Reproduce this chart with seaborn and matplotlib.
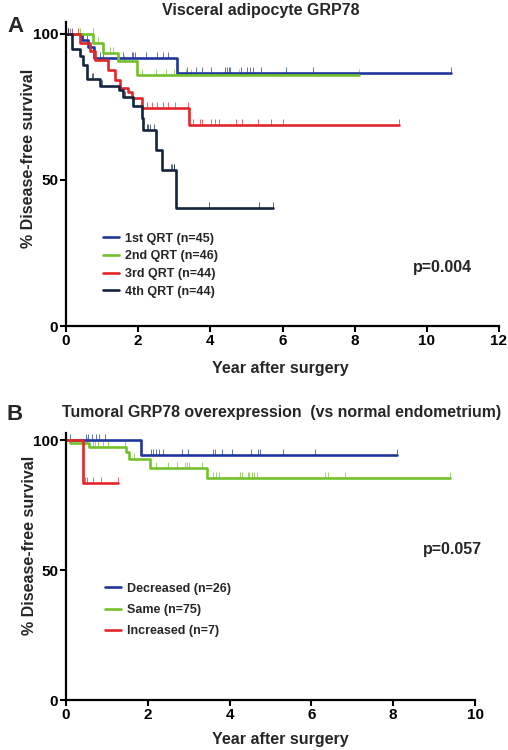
import numpy as np
import pandas as pd
import matplotlib
matplotlib.use("Agg")
import matplotlib.pyplot as plt
from matplotlib.path import Path
import seaborn as sns

# =========================
# Data
# =========================

# Panel A - visceral adipocyte GRP78 quartiles
a_groups = ["1st QRT (n=45)", "2nd QRT (n=46)", "3rd QRT (n=44)", "4th QRT (n=44)"]
a_colors = ["#1f369c", "#72c12c", "#e2262b", "#15243d"]

a1_event_t = [0.43, 0.62, 0.78, 3.07]
a1_event_s = [97.8, 95.5, 91.7, 86.5]
a1_end = 10.67
a1_censor = [0.06, 0.16, 0.48, 0.57, 0.94, 1.03, 1.59, 1.82, 1.87, 1.91, 2.21, 2.51,
             2.70, 2.82, 3.34, 3.60, 3.76, 4.01, 4.41, 4.45, 4.53, 4.55, 4.85, 5.01,
             5.10, 5.17, 5.40, 6.10, 6.84, 10.67]

a2_event_t = [0.76, 1.03, 1.45, 1.98]
a2_event_s = [96.8, 93.3, 90.6, 86.0]
a2_end = 8.12
a2_censor = [0.34, 0.40, 0.74, 0.90, 1.22, 1.30, 1.60, 2.10, 2.50, 2.76, 2.98, 3.33,
             3.46, 4.80, 8.12]

a3_event_t = [0.39, 0.67, 0.80, 1.17, 1.36, 1.50, 1.73, 1.82, 2.10, 3.42]
a3_event_s = [96.8, 94.0, 91.1, 87.7, 84.2, 81.4, 80.2, 78.0, 74.5, 68.8]
a3_end = 9.24
a3_censor = [0.11, 0.34, 2.24, 2.38, 2.51, 2.70, 2.84, 3.02, 3.39, 3.51, 3.71, 3.76,
             4.01, 4.13, 4.24, 4.71, 4.87, 5.33, 5.68, 6.02, 9.24]

a4_event_t = [0.16, 0.39, 0.48, 0.59, 0.94, 1.48, 1.57, 1.85, 2.10, 2.14, 2.49, 2.65, 3.05]
a4_event_s = [94.7, 92.2, 89.4, 84.6, 82.2, 80.8, 78.5, 75.3, 71.1, 66.9, 60.3, 53.4, 40.3]
a4_end = 5.73
a4_censor = [0.06, 0.71, 0.76, 0.99, 1.64, 2.24, 2.28, 2.33, 2.44, 2.90, 2.94, 2.98,
             3.00, 3.96, 5.36, 5.73]

# Panel B - tumoral GRP78 vs normal endometrium
b_groups = ["Decreased (n=26)", "Same (n=75)", "Increased (n=7)"]
b_colors = ["#1f369c", "#72c12c", "#e2262b"]

b1_event_t = [1.83]
b1_event_s = [94.2]
b1_end = 8.09
b1_censor = [0.11, 0.49, 0.55, 0.63, 0.73, 0.81, 0.95, 2.08, 2.13, 2.20, 2.27, 2.38,
             2.83, 2.99, 3.60, 3.64, 3.82, 4.05, 4.52, 4.70, 4.74, 5.31, 6.09, 8.09]

b2_event_t = [0.10, 0.57, 1.47, 1.55, 2.05, 3.44]
b2_event_s = [98.7, 97.2, 95.3, 92.6, 89.3, 85.3]
b2_end = 9.39
b2_censor = [0.51, 0.65, 0.71, 0.79, 0.90, 1.03, 1.44, 1.66, 2.20, 2.50, 2.72, 2.91,
             2.97, 3.01, 3.32, 3.60, 3.67, 3.74, 4.25, 4.30, 4.44, 4.48, 4.54, 4.60,
             4.68, 6.33, 6.40, 6.82, 9.39]

b3_event_t = [0.41]
b3_event_s = [83.6]
b3_end = 1.26
b3_censor = [0.46, 0.52, 0.67, 0.86, 1.26]


# =========================
# Helpers
# =========================

def curve_frame(groups, specs):
    rows = []
    for g, (et, es, end) in zip(groups, specs):
        t = [0.0] + list(et) + [end]
        s = [100.0] + list(es) + [es[-1]]
        for ti, si in zip(t, s):
            rows.append({"time": ti, "surv": si, "group": g})
    return pd.DataFrame(rows)


def censor_frame(groups, specs, censors):
    rows = []
    for g, (et, es, end), cens in zip(groups, specs, censors):
        levels = np.array([100.0] + list(es))
        for c in cens:
            idx = np.searchsorted(np.array(et), c, side="right")
            rows.append({"time": c, "surv": levels[idx], "group": g})
    return pd.DataFrame(rows)


tick_mark = Path([(0, 0), (0, 1)], [Path.MOVETO, Path.LINETO])


def km_panel(ax, groups, colors, specs, censors):
    curves = curve_frame(groups, specs)
    marks = censor_frame(groups, specs, censors)
    sns.lineplot(data=curves, x="time", y="surv", hue="group", hue_order=groups,
                 palette=colors, estimator=None, drawstyle="steps-post",
                 linewidth=1.9, ax=ax)
    for g, c in zip(groups, colors):
        sns.scatterplot(data=marks[marks["group"] == g], x="time", y="surv",
                        marker=tick_mark, s=70, color=c, edgecolor=c,
                        linewidth=0.7, alpha=0.7, legend=False, ax=ax)


# =========================
# Figure
# =========================

sns.set_style("ticks")
plt.rcParams["font.family"] = ["Liberation Sans", "DejaVu Sans"]
plt.rcParams["font.weight"] = "bold"

fig = plt.figure(figsize=(5.08, 7.5), dpi=100)
W, H = 508, 750

ax_a = fig.add_axes([66 / W, 1 - 326 / H, 433 / W, 304 / H])
ax_b = fig.add_axes([66 / W, 1 - 700 / H, 409 / W, 267 / H])

km_panel(ax_a, a_groups, a_colors,
         [(a1_event_t, a1_event_s, a1_end), (a2_event_t, a2_event_s, a2_end),
          (a3_event_t, a3_event_s, a3_end), (a4_event_t, a4_event_s, a4_end)],
         [a1_censor, a2_censor, a3_censor, a4_censor])

km_panel(ax_b, b_groups, b_colors,
         [(b1_event_t, b1_event_s, b1_end), (b2_event_t, b2_event_s, b2_end),
          (b3_event_t, b3_event_s, b3_end)],
         [b1_censor, b2_censor, b3_censor])

for ax, xmax, ytop in [(ax_a, 12, 104), (ax_b, 10, 102.7)]:
    ax.set_xlim(0, xmax)
    ax.set_ylim(0, ytop)
    ax.set_xticks(np.arange(0, xmax + 1, 2))
    ax.set_yticks([0, 50, 100])
    sns.despine(ax=ax)
    for side in ["left", "bottom"]:
        ax.spines[side].set_linewidth(1.6)
        ax.spines[side].set_color("black")
    ax.tick_params(axis="both", direction="out", length=4, width=1.5,
                   labelsize=11, pad=1.5, colors="black")
    for lab in ax.get_xticklabels() + ax.get_yticklabels():
        lab.set_fontweight("bold")
    ax.set_xlabel("Year after surgery", fontsize=11.5, fontweight="bold")
    ax.set_ylabel("% Disease-free survival", fontsize=11.5, fontweight="bold")

ax_a.xaxis.set_label_coords(0.494, -0.115)
ax_a.yaxis.set_label_coords(-0.07, 0.55)
ax_b.xaxis.set_label_coords(0.523, -0.118)
ax_b.yaxis.set_label_coords(-0.072, 0.58)

# legends
h, l = ax_a.get_legend_handles_labels()
ax_a.legend(h, l, loc="center left", bbox_to_anchor=(0.085, 0.2), frameon=False,
            handlelength=1.3, handletextpad=0.5, labelspacing=0.45,
            borderpad=0, borderaxespad=0, prop={"weight": "bold", "size": 9})
h, l = ax_b.get_legend_handles_labels()
ax_b.legend(h, l, loc="center left", bbox_to_anchor=(0.095, 0.337), frameon=False,
            handlelength=1.3, handletextpad=0.45, labelspacing=0.75,
            borderpad=0, borderaxespad=0, prop={"weight": "bold", "size": 9})

# p-values
ax_a.text(0.801, 0.191, "p=0.004", transform=ax_a.transAxes, fontsize=11.5,
          fontweight="bold", va="center", ha="left")
ax_b.text(0.873, 0.562, "p=0.057", transform=ax_b.transAxes, fontsize=11.5,
          fontweight="bold", va="center", ha="left")

# titles and panel letters
fig.text(261 / W, 1 - 10 / H, "Visceral adipocyte GRP78", fontsize=11.5,
         fontweight="bold", ha="center", va="center")
fig.text(282 / W, 1 - 413 / H, "Tumoral GRP78 overexpression  (vs normal endometrium)",
         fontsize=11.4, fontweight="bold", ha="center", va="center")
fig.text(15 / W, 1 - 27 / H, "A", fontsize=16, fontweight="bold", ha="center", va="center")
fig.text(15 / W, 1 - 415 / H, "B", fontsize=16, fontweight="bold", ha="center", va="center")

fig.savefig("out.png", dpi=100)
